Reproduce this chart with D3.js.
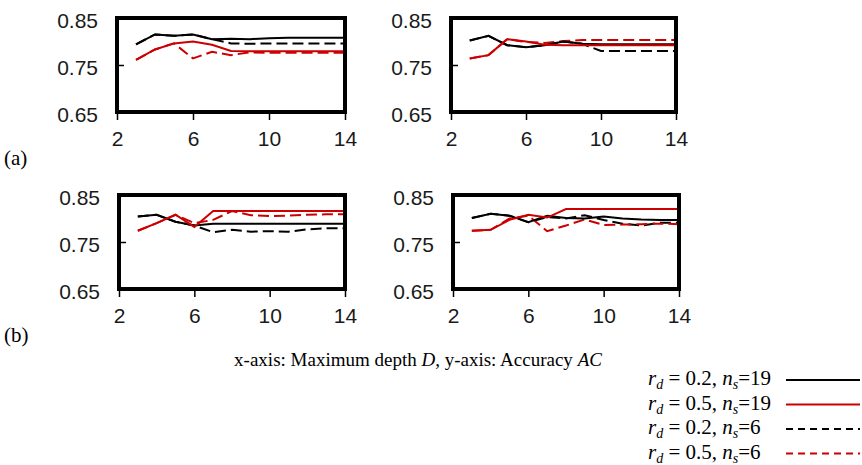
<!DOCTYPE html>
<html>
<head>
<meta charset="utf-8">
<script src="https://cdn.jsdelivr.net/npm/d3@7"></script>
<style>
  body { margin: 0; background: #fff; }
  .tick text { font-family: "Liberation Sans", Arial, sans-serif; font-size: 21px; fill: #1a1a1a; }
  .tick line { stroke: #000; stroke-width: 1.5px; }
  .serif { font-family: "Liberation Serif", "Times New Roman", serif; fill: #000; }
</style>
</head>
<body>
<div id="chart"></div>
<script>
// maximum depth D on the x-axis
const depths = [3, 4, 5, 6, 7, 8, 9, 10, 11, 12, 13, 14];
const xTicks = [2, 6, 10, 14];
const yTicks = [0.65, 0.75, 0.85];

// legend labels: [r_d, n_s]
const seriesLabels = [["0.2", "19"], ["0.5", "19"], ["0.2", "6"], ["0.5", "6"]];

// (a) left
const aLeft_r2_n19 = [0.794, 0.815, 0.812, 0.815, 0.805, 0.806, 0.805, 0.807, 0.808, 0.808, 0.808, 0.808];
const aLeft_r5_n19 = [0.761, 0.783, 0.796, 0.800, 0.793, 0.780, 0.779, 0.779, 0.779, 0.779, 0.779, 0.779];
const aLeft_r2_n6  = [0.794, 0.815, 0.812, 0.815, 0.805, 0.796, 0.795, 0.796, 0.796, 0.796, 0.796, 0.796];
const aLeft_r5_n6  = [0.761, 0.783, 0.796, 0.764, 0.778, 0.771, 0.777, 0.776, 0.776, 0.776, 0.776, 0.776];

// (a) right
const aRight_r2_n19 = [0.802, 0.812, 0.792, 0.788, 0.792, 0.800, 0.795, 0.794, 0.794, 0.794, 0.794, 0.794];
const aRight_r5_n19 = [0.764, 0.771, 0.805, 0.800, 0.793, 0.792, 0.792, 0.792, 0.792, 0.792, 0.792, 0.792];
const aRight_r2_n6  = [0.802, 0.812, 0.792, 0.788, 0.792, 0.800, 0.795, 0.780, 0.780, 0.780, 0.780, 0.780];
const aRight_r5_n6  = [0.764, 0.771, 0.805, 0.799, 0.797, 0.801, 0.803, 0.803, 0.803, 0.803, 0.803, 0.803];

// (b) left
const bLeft_r2_n19 = [0.804, 0.808, 0.793, 0.785, 0.789, 0.789, 0.789, 0.789, 0.789, 0.789, 0.789, 0.789];
const bLeft_r5_n19 = [0.774, 0.790, 0.808, 0.782, 0.816, 0.816, 0.816, 0.816, 0.816, 0.816, 0.816, 0.816];
const bLeft_r2_n6  = [0.804, 0.808, 0.793, 0.785, 0.771, 0.776, 0.772, 0.773, 0.772, 0.777, 0.779, 0.779];
const bLeft_r5_n6  = [0.774, 0.790, 0.808, 0.790, 0.797, 0.816, 0.807, 0.805, 0.806, 0.808, 0.809, 0.809];

// (b) right
const bRight_r2_n19 = [0.801, 0.810, 0.806, 0.792, 0.806, 0.801, 0.800, 0.804, 0.800, 0.798, 0.797, 0.797];
const bRight_r5_n19 = [0.774, 0.776, 0.797, 0.808, 0.802, 0.820, 0.820, 0.820, 0.820, 0.820, 0.820, 0.820];
const bRight_r2_n6  = [0.801, 0.810, 0.806, 0.792, 0.803, 0.800, 0.807, 0.797, 0.789, 0.785, 0.791, 0.791];
const bRight_r5_n6  = [0.774, 0.776, 0.800, 0.806, 0.773, 0.785, 0.798, 0.786, 0.787, 0.788, 0.789, 0.788];

const RED = "#cc0000";

// legend order: black solid, red solid, black dashed, red dashed
const styles = [
  { color: "#000", dash: null },
  { color: RED, dash: null },
  { color: "#000", dash: "11,5" },
  { color: RED, dash: "11,5" }
];

const panels = [
  { x: 117, y: 18,  w: 228, h: 94, series: [aLeft_r2_n19, aLeft_r5_n19, aLeft_r2_n6, aLeft_r5_n6] },
  { x: 451, y: 18,  w: 225, h: 94, series: [aRight_r2_n19, aRight_r5_n19, aRight_r2_n6, aRight_r5_n6] },
  { x: 119, y: 195, w: 226, h: 94, series: [bLeft_r2_n19, bLeft_r5_n19, bLeft_r2_n6, bLeft_r5_n6] },
  { x: 453, y: 195, w: 226, h: 94, series: [bRight_r2_n19, bRight_r5_n19, bRight_r2_n6, bRight_r5_n6] }
];

const svg = d3.select("#chart").append("svg")
  .attr("width", 862)
  .attr("height", 465);

panels.forEach(p => {
  const g = svg.append("g").attr("transform", `translate(${p.x},${p.y})`);

  const x = d3.scaleLinear().domain([2, 14]).range([0, p.w]);
  const y = d3.scaleLinear().domain([0.65, 0.85]).range([p.h, 0]);

  const xAxis = d3.axisBottom(x)
    .tickValues(xTicks)
    .tickFormat(d3.format("d"))
    .tickSize(8)
    .tickPadding(11);

  // y ticks point into the plot
  const yAxis = d3.axisLeft(y)
    .tickValues(yTicks)
    .tickFormat(d3.format(".2f"))
    .tickSizeInner(-7)
    .tickSizeOuter(0)
    .tickPadding(19);

  const gx = g.append("g").attr("transform", `translate(0,${p.h})`).call(xAxis);
  const gy = g.append("g").call(yAxis);
  gx.select(".domain").remove();
  gy.select(".domain").remove();
  gy.selectAll(".tick text").attr("dy", "0.44em");

  const line = d3.line()
    .x((d, i) => x(depths[i]))
    .y(d => y(d));

  // dashed first, solid on top
  [2, 3, 0, 1].forEach(k => {
    g.append("path")
      .datum(p.series[k])
      .attr("d", line)
      .attr("fill", "none")
      .attr("stroke", styles[k].color)
      .attr("stroke-width", 2)
      .attr("stroke-dasharray", styles[k].dash);
  });

  // thick plot frame
  g.append("rect")
    .attr("width", p.w)
    .attr("height", p.h)
    .attr("fill", "none")
    .attr("stroke", "#000")
    .attr("stroke-width", 4);
});

// row labels
svg.append("text").attr("class", "serif").attr("x", 4).attr("y", 165)
  .attr("font-size", 21).text("(a)");
svg.append("text").attr("class", "serif").attr("x", 4).attr("y", 342)
  .attr("font-size", 21).text("(b)");

// axis caption
const cap = svg.append("text").attr("class", "serif")
  .attr("x", 418).attr("y", 366)
  .attr("font-size", 19)
  .attr("text-anchor", "middle");
cap.append("tspan").text("x-axis: Maximum depth ");
cap.append("tspan").attr("font-style", "italic").text("D");
cap.append("tspan").text(", y-axis: Accuracy ");
cap.append("tspan").attr("font-style", "italic").text("AC");

// legend
const legend = svg.append("g").attr("transform", "translate(648,385)");
seriesLabels.forEach((lab, i) => {
  const row = legend.append("g").attr("transform", `translate(0,${i * 24.5})`);
  const t = row.append("text").attr("class", "serif").attr("font-size", 21);
  t.append("tspan").attr("font-style", "italic").text("r");
  t.append("tspan").attr("font-style", "italic").attr("font-size", 14).attr("dy", 4).text("d");
  t.append("tspan").attr("dy", -4).text(" = " + lab[0] + ", ");
  t.append("tspan").attr("font-style", "italic").text("n");
  t.append("tspan").attr("font-style", "italic").attr("font-size", 14).attr("dy", 4).text("s");
  t.append("tspan").attr("dy", -4).text("=" + lab[1]);

  row.append("line")
    .attr("x1", 138).attr("x2", 212)
    .attr("y1", -5).attr("y2", -5)
    .attr("stroke", styles[i].color)
    .attr("stroke-width", 2)
    .attr("stroke-dasharray", styles[i].dash ? "7,5" : null);
});
</script>
</body>
</html>
